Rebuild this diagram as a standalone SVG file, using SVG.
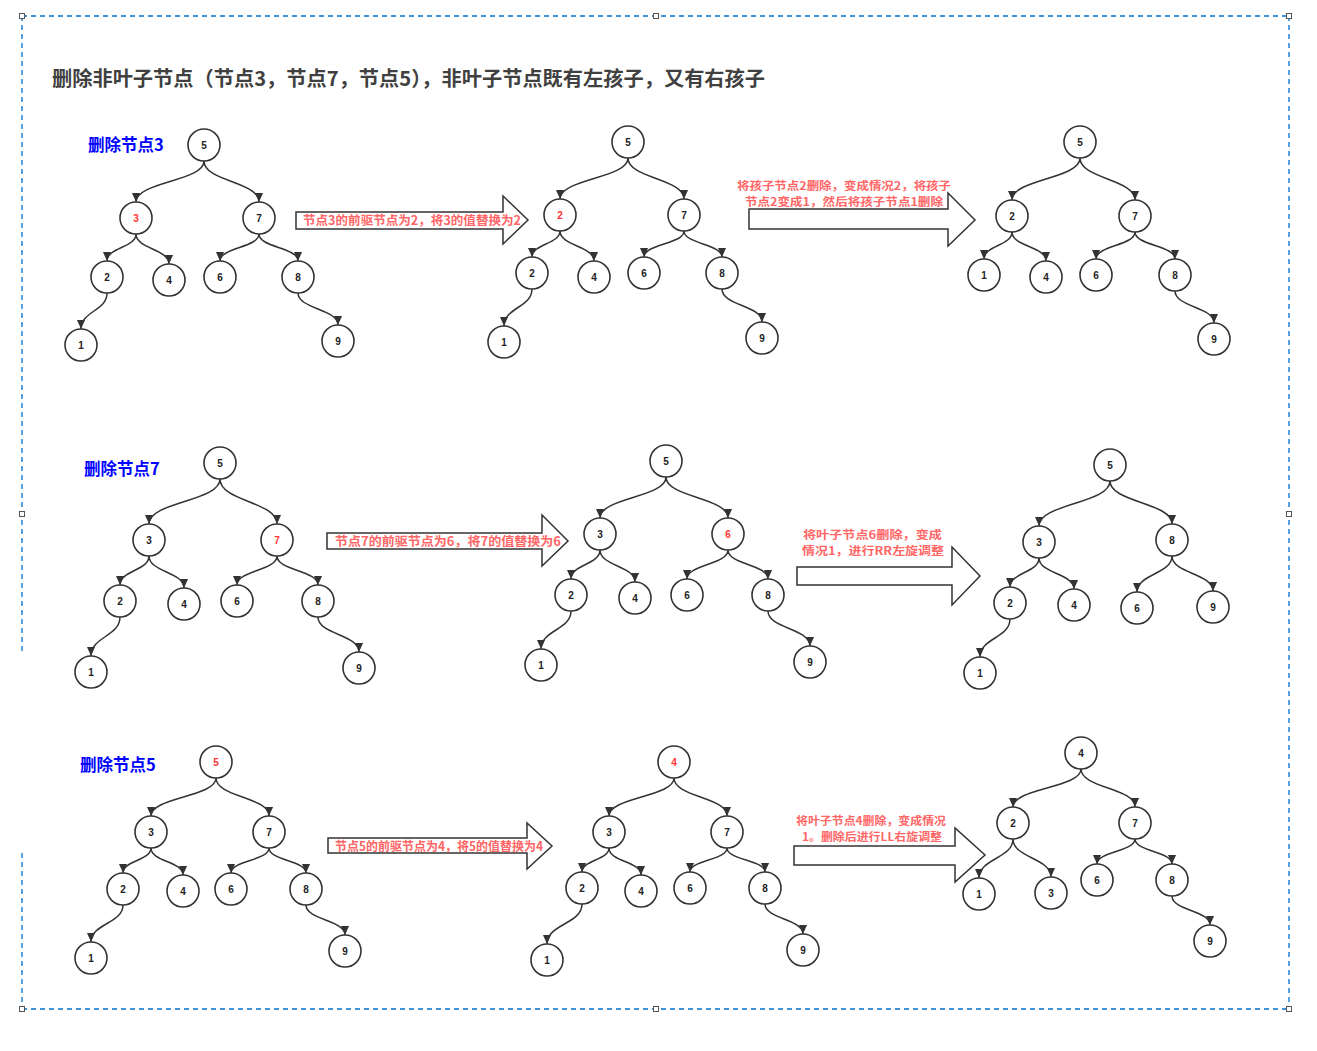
<svg xmlns="http://www.w3.org/2000/svg" width="1317" height="1051" viewBox="0 0 1317 1051">
<defs>
<marker id="ah" markerUnits="userSpaceOnUse" markerWidth="9" markerHeight="9" refX="10" refY="4.5" orient="auto" viewBox="0 0 10 9">
<path d="M0,0 L10,4.5 L0,9 z" fill="#333"/>
</marker>
<style>
.frame{fill:none;stroke:#0070d0;stroke-width:1.3;stroke-dasharray:5 4}
.hd{fill:#fff;stroke:#555;stroke-width:1}
.title{font-family:"Noto Sans CJK SC","Liberation Sans",sans-serif;font-weight:bold;font-size:20px;fill:#404040}
.sec{font-family:"Noto Sans CJK SC","Liberation Sans",sans-serif;font-weight:bold;font-size:16.5px;fill:#0000ff}
.lbl{font-family:"Noto Sans CJK SC","Liberation Sans",sans-serif;font-weight:bold;font-size:12.5px;fill:#ff6666;text-anchor:middle}
.lbl2{font-family:"Noto Sans CJK SC","Liberation Sans",sans-serif;font-weight:bold;font-size:11px;fill:#ff6666;text-anchor:middle}
.big{fill:#fff;stroke:#333;stroke-width:1.5}
.n circle{fill:#fff;stroke:#333;stroke-width:1.6}
.n text{font-family:"Liberation Sans",Arial,sans-serif;font-weight:bold;font-size:10px;fill:#222;text-anchor:middle}
.n text.r{fill:#ff3333}
.e path{fill:none;stroke:#333;stroke-width:1.5;marker-end:url(#ah)}
</style>
</defs>
<rect width="1317" height="1051" fill="#fff"/>
<g id="frame">
<line class="frame" x1="22" y1="16" x2="1289" y2="16"/>
<line class="frame" x1="1289" y1="16" x2="1289" y2="1009"/>
<line class="frame" x1="22" y1="1009" x2="1289" y2="1009"/>
<line class="frame" x1="22" y1="16" x2="22" y2="653"/>
<line class="frame" x1="22" y1="853" x2="22" y2="1009"/>
<rect class="hd" x="19.5" y="13.5" width="5" height="5"/>
<rect class="hd" x="653.5" y="13.5" width="5" height="5"/>
<rect class="hd" x="1286.5" y="13.5" width="5" height="5"/>
<rect class="hd" x="19.5" y="511.5" width="5" height="5"/>
<rect class="hd" x="1286.5" y="511.5" width="5" height="5"/>
<rect class="hd" x="19.5" y="1006.5" width="5" height="5"/>
<rect class="hd" x="653.5" y="1006.5" width="5" height="5"/>
<rect class="hd" x="1286.5" y="1006.5" width="5" height="5"/>
</g>
<text class="title" x="52" y="86" textLength="713" lengthAdjust="spacingAndGlyphs">删除非叶子节点（节点3，节点7，节点5），非叶子节点既有左孩子，又有右孩子</text>
<text class="sec" x="88" y="151">删除节点3</text>
<text class="sec" x="84" y="475">删除节点7</text>
<text class="sec" x="80" y="771">删除节点5</text>

<g id="arrows">
<polygon class="big" points="296,212 503,212 503,196 528,220 503,244 503,229 296,229"/>
<text class="lbl" x="412" y="225" textLength="218" lengthAdjust="spacingAndGlyphs">节点3的前驱节点为2，将3的值替换为2</text>
<polygon class="big" points="749,209 948,209 948,193 975,220 948,246 948,229 749,229"/>
<text class="lbl2" x="844" y="190" textLength="214" lengthAdjust="spacingAndGlyphs">将孩子节点2删除，变成情况2，将孩子</text>
<text class="lbl2" x="844" y="206" textLength="198" lengthAdjust="spacingAndGlyphs">节点2变成1，然后将孩子节点1删除</text>
<polygon class="big" points="327,533 542,533 542,515 568,541 542,566 542,549 327,549"/>
<text class="lbl" x="448" y="546" textLength="226" lengthAdjust="spacingAndGlyphs">节点7的前驱节点为6，将7的值替换为6</text>
<polygon class="big" points="797,567 952,567 952,547 980,576 952,605 952,585 797,585"/>
<text class="lbl2" x="872.5" y="538.5" textLength="139" lengthAdjust="spacingAndGlyphs">将叶子节点6删除，变成</text>
<text class="lbl2" x="873" y="554.5" textLength="142" lengthAdjust="spacingAndGlyphs">情况1，进行RR左旋调整</text>
<polygon class="big" points="328,838 527,838 527,823 552,846 527,869 527,853 328,853"/>
<text class="lbl" x="439" y="851" textLength="208" lengthAdjust="spacingAndGlyphs">节点5的前驱节点为4，将5的值替换为4</text>
<polygon class="big" points="794,846 955,846 955,828 985,855 955,882 955,865 794,865"/>
<text class="lbl2" x="871" y="825" textLength="150" lengthAdjust="spacingAndGlyphs">将叶子节点4删除，变成情况</text>
<text class="lbl2" x="872" y="841" textLength="140" lengthAdjust="spacingAndGlyphs">1。删除后进行LL右旋调整</text>
</g>

<g id="connectors" class="e">
<path d="M204 161 C204 181.5 136 181.5 136 202"/>
<path d="M204 161 C204 181.5 259 181.5 259 202"/>
<path d="M136 234 C136 247.5 107 247.5 107 261"/>
<path d="M136 234 C136 249 169 249 169 264"/>
<path d="M259 234 C259 247.5 220 247.5 220 261"/>
<path d="M259 234 C259 247.5 298 247.5 298 261"/>
<path d="M107 293 C107 311 81 311 81 329"/>
<path d="M298 293 C298 309 338 309 338 325"/>

<path d="M628 158 C628 178.5 560 178.5 560 199"/>
<path d="M628 158 C628 178.5 684 178.5 684 199"/>
<path d="M560 231 C560 244 532 244 532 257"/>
<path d="M560 231 C560 246 594 246 594 261"/>
<path d="M684 231 C684 244 644 244 644 257"/>
<path d="M684 231 C684 244 722 244 722 257"/>
<path d="M532 289 C532 307.5 504 307.5 504 326"/>
<path d="M722 289 C722 305.5 762 305.5 762 322"/>

<path d="M1080 158 C1080 179 1012 179 1012 200"/>
<path d="M1080 158 C1080 179 1135 179 1135 200"/>
<path d="M1012 232 C1012 245.5 984 245.5 984 259"/>
<path d="M1012 232 C1012 246.5 1046 246.5 1046 261"/>
<path d="M1135 232 C1135 245.5 1096 245.5 1096 259"/>
<path d="M1135 232 C1135 245.5 1175 245.5 1175 259"/>
<path d="M1175 291 C1175 307 1214 307 1214 323"/>

<path d="M220 479 C220 501.5 149 501.5 149 524"/>
<path d="M220 479 C220 501.5 277 501.5 277 524"/>
<path d="M149 556 C149 570.5 120 570.5 120 585"/>
<path d="M149 556 C149 572 184 572 184 588"/>
<path d="M277 556 C277 570.5 237 570.5 237 585"/>
<path d="M277 556 C277 570.5 318 570.5 318 585"/>
<path d="M120 617 C120 636.5 91 636.5 91 656"/>
<path d="M318 617 C318 634.5 359 634.5 359 652"/>

<path d="M666 477 C666 497.5 600 497.5 600 518"/>
<path d="M666 477 C666 497.5 728 497.5 728 518"/>
<path d="M600 550 C600 564.5 571 564.5 571 579"/>
<path d="M600 550 C600 566 635 566 635 582"/>
<path d="M728 550 C728 564.5 687 564.5 687 579"/>
<path d="M728 550 C728 564.5 768 564.5 768 579"/>
<path d="M571 611 C571 630 541 630 541 649"/>
<path d="M768 611 C768 628.5 810 628.5 810 646"/>

<path d="M1110 481 C1110 503.5 1039 503.5 1039 526"/>
<path d="M1110 481 C1110 502.5 1172 502.5 1172 524"/>
<path d="M1039 558 C1039 572.5 1010 572.5 1010 587"/>
<path d="M1039 558 C1039 573.5 1074 573.5 1074 589"/>
<path d="M1172 556 C1172 574 1137 574 1137 592"/>
<path d="M1172 556 C1172 573.5 1213 573.5 1213 591"/>
<path d="M1010 619 C1010 638 980 638 980 657"/>

<path d="M216 778 C216 797 151 797 151 816"/>
<path d="M216 778 C216 797 269 797 269 816"/>
<path d="M151 848 C151 860.5 123 860.5 123 873"/>
<path d="M151 848 C151 861.5 183 861.5 183 875"/>
<path d="M269 848 C269 860.5 231 860.5 231 873"/>
<path d="M269 848 C269 860.5 306 860.5 306 873"/>
<path d="M123 905 C123 923.5 91 923.5 91 942"/>
<path d="M306 905 C306 920 345 920 345 935"/>

<path d="M674 778 C674 797 609 797 609 816"/>
<path d="M674 778 C674 797 727 797 727 816"/>
<path d="M609 848 C609 860 582 860 582 872"/>
<path d="M609 848 C609 861.5 641 861.5 641 875"/>
<path d="M727 848 C727 860 690 860 690 872"/>
<path d="M727 848 C727 860 765 860 765 872"/>
<path d="M582 904 C582 924 547 924 547 944"/>
<path d="M765 904 C765 919 803 919 803 934"/>

<path d="M1081 769 C1081 788 1013 788 1013 807"/>
<path d="M1081 769 C1081 788 1135 788 1135 807"/>
<path d="M1013 839 C1013 858.5 979 858.5 979 878"/>
<path d="M1013 839 C1013 858 1051 858 1051 877"/>
<path d="M1135 839 C1135 851.5 1097 851.5 1097 864"/>
<path d="M1135 839 C1135 851.5 1172 851.5 1172 864"/>
<path d="M1172 896 C1172 910.5 1210 910.5 1210 925"/>
</g>

<g id="tree1a" class="n">
<g id="t1a-5"><circle cx="204" cy="145" r="16"/><text x="204" y="148.5">5</text></g>
<g id="t1a-3"><circle cx="136" cy="218" r="16"/><text class="r" x="136" y="221.5">3</text></g>
<g id="t1a-7"><circle cx="259" cy="218" r="16"/><text x="259" y="221.5">7</text></g>
<g id="t1a-2"><circle cx="107" cy="277" r="16"/><text x="107" y="280.5">2</text></g>
<g id="t1a-4"><circle cx="169" cy="280" r="16"/><text x="169" y="283.5">4</text></g>
<g id="t1a-6"><circle cx="220" cy="277" r="16"/><text x="220" y="280.5">6</text></g>
<g id="t1a-8"><circle cx="298" cy="277" r="16"/><text x="298" y="280.5">8</text></g>
<g id="t1a-1"><circle cx="81" cy="345" r="16"/><text x="81" y="348.5">1</text></g>
<g id="t1a-9"><circle cx="338" cy="341" r="16"/><text x="338" y="344.5">9</text></g>
</g>
<g id="tree1b" class="n">
<g id="t1b-5"><circle cx="628" cy="142" r="16"/><text x="628" y="145.5">5</text></g>
<g id="t1b-2r"><circle cx="560" cy="215" r="16"/><text class="r" x="560" y="218.5">2</text></g>
<g id="t1b-7"><circle cx="684" cy="215" r="16"/><text x="684" y="218.5">7</text></g>
<g id="t1b-2"><circle cx="532" cy="273" r="16"/><text x="532" y="276.5">2</text></g>
<g id="t1b-4"><circle cx="594" cy="277" r="16"/><text x="594" y="280.5">4</text></g>
<g id="t1b-6"><circle cx="644" cy="273" r="16"/><text x="644" y="276.5">6</text></g>
<g id="t1b-8"><circle cx="722" cy="273" r="16"/><text x="722" y="276.5">8</text></g>
<g id="t1b-1"><circle cx="504" cy="342" r="16"/><text x="504" y="345.5">1</text></g>
<g id="t1b-9"><circle cx="762" cy="338" r="16"/><text x="762" y="341.5">9</text></g>
</g>
<g id="tree1c" class="n">
<g id="t1c-5"><circle cx="1080" cy="142" r="16"/><text x="1080" y="145.5">5</text></g>
<g id="t1c-2"><circle cx="1012" cy="216" r="16"/><text x="1012" y="219.5">2</text></g>
<g id="t1c-7"><circle cx="1135" cy="216" r="16"/><text x="1135" y="219.5">7</text></g>
<g id="t1c-1"><circle cx="984" cy="275" r="16"/><text x="984" y="278.5">1</text></g>
<g id="t1c-4"><circle cx="1046" cy="277" r="16"/><text x="1046" y="280.5">4</text></g>
<g id="t1c-6"><circle cx="1096" cy="275" r="16"/><text x="1096" y="278.5">6</text></g>
<g id="t1c-8"><circle cx="1175" cy="275" r="16"/><text x="1175" y="278.5">8</text></g>
<g id="t1c-9"><circle cx="1214" cy="339" r="16"/><text x="1214" y="342.5">9</text></g>
</g>

<g id="tree2a" class="n">
<g id="t2a-5"><circle cx="220" cy="463" r="16"/><text x="220" y="466.5">5</text></g>
<g id="t2a-3"><circle cx="149" cy="540" r="16"/><text x="149" y="543.5">3</text></g>
<g id="t2a-7"><circle cx="277" cy="540" r="16"/><text class="r" x="277" y="543.5">7</text></g>
<g id="t2a-2"><circle cx="120" cy="601" r="16"/><text x="120" y="604.5">2</text></g>
<g id="t2a-4"><circle cx="184" cy="604" r="16"/><text x="184" y="607.5">4</text></g>
<g id="t2a-6"><circle cx="237" cy="601" r="16"/><text x="237" y="604.5">6</text></g>
<g id="t2a-8"><circle cx="318" cy="601" r="16"/><text x="318" y="604.5">8</text></g>
<g id="t2a-1"><circle cx="91" cy="672" r="16"/><text x="91" y="675.5">1</text></g>
<g id="t2a-9"><circle cx="359" cy="668" r="16"/><text x="359" y="671.5">9</text></g>
</g>
<g id="tree2b" class="n">
<g id="t2b-5"><circle cx="666" cy="461" r="16"/><text x="666" y="464.5">5</text></g>
<g id="t2b-3"><circle cx="600" cy="534" r="16"/><text x="600" y="537.5">3</text></g>
<g id="t2b-6r"><circle cx="728" cy="534" r="16"/><text class="r" x="728" y="537.5">6</text></g>
<g id="t2b-2"><circle cx="571" cy="595" r="16"/><text x="571" y="598.5">2</text></g>
<g id="t2b-4"><circle cx="635" cy="598" r="16"/><text x="635" y="601.5">4</text></g>
<g id="t2b-6"><circle cx="687" cy="595" r="16"/><text x="687" y="598.5">6</text></g>
<g id="t2b-8"><circle cx="768" cy="595" r="16"/><text x="768" y="598.5">8</text></g>
<g id="t2b-1"><circle cx="541" cy="665" r="16"/><text x="541" y="668.5">1</text></g>
<g id="t2b-9"><circle cx="810" cy="662" r="16"/><text x="810" y="665.5">9</text></g>
</g>
<g id="tree2c" class="n">
<g id="t2c-5"><circle cx="1110" cy="465" r="16"/><text x="1110" y="468.5">5</text></g>
<g id="t2c-3"><circle cx="1039" cy="542" r="16"/><text x="1039" y="545.5">3</text></g>
<g id="t2c-8"><circle cx="1172" cy="540" r="16"/><text x="1172" y="543.5">8</text></g>
<g id="t2c-2"><circle cx="1010" cy="603" r="16"/><text x="1010" y="606.5">2</text></g>
<g id="t2c-4"><circle cx="1074" cy="605" r="16"/><text x="1074" y="608.5">4</text></g>
<g id="t2c-6"><circle cx="1137" cy="608" r="16"/><text x="1137" y="611.5">6</text></g>
<g id="t2c-9"><circle cx="1213" cy="607" r="16"/><text x="1213" y="610.5">9</text></g>
<g id="t2c-1"><circle cx="980" cy="673" r="16"/><text x="980" y="676.5">1</text></g>
</g>

<g id="tree3a" class="n">
<g id="t3a-5"><circle cx="216" cy="762" r="16"/><text class="r" x="216" y="765.5">5</text></g>
<g id="t3a-3"><circle cx="151" cy="832" r="16"/><text x="151" y="835.5">3</text></g>
<g id="t3a-7"><circle cx="269" cy="832" r="16"/><text x="269" y="835.5">7</text></g>
<g id="t3a-2"><circle cx="123" cy="889" r="16"/><text x="123" y="892.5">2</text></g>
<g id="t3a-4"><circle cx="183" cy="891" r="16"/><text x="183" y="894.5">4</text></g>
<g id="t3a-6"><circle cx="231" cy="889" r="16"/><text x="231" y="892.5">6</text></g>
<g id="t3a-8"><circle cx="306" cy="889" r="16"/><text x="306" y="892.5">8</text></g>
<g id="t3a-1"><circle cx="91" cy="958" r="16"/><text x="91" y="961.5">1</text></g>
<g id="t3a-9"><circle cx="345" cy="951" r="16"/><text x="345" y="954.5">9</text></g>
</g>
<g id="tree3b" class="n">
<g id="t3b-4r"><circle cx="674" cy="762" r="16"/><text class="r" x="674" y="765.5">4</text></g>
<g id="t3b-3"><circle cx="609" cy="832" r="16"/><text x="609" y="835.5">3</text></g>
<g id="t3b-7"><circle cx="727" cy="832" r="16"/><text x="727" y="835.5">7</text></g>
<g id="t3b-2"><circle cx="582" cy="888" r="16"/><text x="582" y="891.5">2</text></g>
<g id="t3b-4"><circle cx="641" cy="891" r="16"/><text x="641" y="894.5">4</text></g>
<g id="t3b-6"><circle cx="690" cy="888" r="16"/><text x="690" y="891.5">6</text></g>
<g id="t3b-8"><circle cx="765" cy="888" r="16"/><text x="765" y="891.5">8</text></g>
<g id="t3b-1"><circle cx="547" cy="960" r="16"/><text x="547" y="963.5">1</text></g>
<g id="t3b-9"><circle cx="803" cy="950" r="16"/><text x="803" y="953.5">9</text></g>
</g>
<g id="tree3c" class="n">
<g id="t3c-4"><circle cx="1081" cy="753" r="16"/><text x="1081" y="756.5">4</text></g>
<g id="t3c-2"><circle cx="1013" cy="823" r="16"/><text x="1013" y="826.5">2</text></g>
<g id="t3c-7"><circle cx="1135" cy="823" r="16"/><text x="1135" y="826.5">7</text></g>
<g id="t3c-1"><circle cx="979" cy="894" r="16"/><text x="979" y="897.5">1</text></g>
<g id="t3c-3"><circle cx="1051" cy="893" r="16"/><text x="1051" y="896.5">3</text></g>
<g id="t3c-6"><circle cx="1097" cy="880" r="16"/><text x="1097" y="883.5">6</text></g>
<g id="t3c-8"><circle cx="1172" cy="880" r="16"/><text x="1172" y="883.5">8</text></g>
<g id="t3c-9"><circle cx="1210" cy="941" r="16"/><text x="1210" y="944.5">9</text></g>
</g>
</svg>
